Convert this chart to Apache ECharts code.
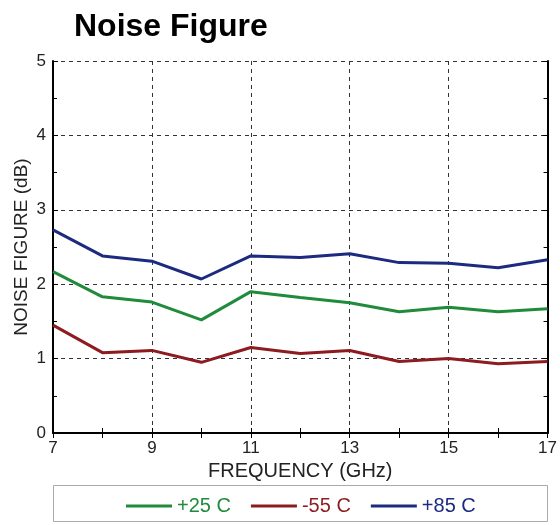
<!DOCTYPE html>
<html>
<head>
<meta charset="utf-8">
<script src="https://cdn.jsdelivr.net/npm/echarts@6/dist/echarts.min.js"></script>
<style>
html,body{margin:0;padding:0;background:#fff;}
#c{width:560px;height:525px;}
</style>
</head>
<body>
<div id="c"></div>
<script>
var frequencies = ['7','8','9','10','11','12','13','14','15','16','17'];
var nf25 = [2.17, 1.83, 1.76, 1.52, 1.90, 1.82, 1.75, 1.63, 1.69, 1.63, 1.67];
var nfMinus55 = [1.45, 1.08, 1.11, 0.95, 1.15, 1.07, 1.11, 0.96, 1.00, 0.93, 0.96];
var nf85 = [2.73, 2.38, 2.31, 2.07, 2.38, 2.36, 2.41, 2.29, 2.28, 2.22, 2.33];
var seriesNames = ['+25 C', '-55 C', '+85 C'];
var colors = ['#1f8b3b', '#8c1c1f', '#1c2a80'];

var chart = echarts.init(document.getElementById('c'), null, {renderer: 'canvas'});
var font = 'Liberation Sans, Arial, sans-serif';
var option = {
  animation: false,
  backgroundColor: '#fff',
  title: {
    text: 'Noise Figure', left: 69, top: 6,
    textStyle: {fontFamily: font, fontSize: 32, fontWeight: 'bold', color: '#000'}
  },
  grid: {left: 53, top: 61, right: 10, bottom: 92, containLabel: false},
  legend: {
    data: [
      {name: seriesNames[0], textStyle: {color: colors[0]}},
      {name: seriesNames[1], textStyle: {color: colors[1]}},
      {name: seriesNames[2], textStyle: {color: colors[2]}}
    ],
    left: 121, top: 491, itemWidth: 46, itemHeight: 3, itemGap: 20,
    textStyle: {fontFamily: font, fontSize: 20},
    icon: 'rect'
  },
  graphic: [{
    type: 'rect', x: 53.5, y: 485.5, shape: {x: 0, y: 0, width: 494, height: 36},
    style: {fill: 'none', stroke: '#aaa', lineWidth: 1}, z: -1
  }],
  xAxis: [{
    type: 'category', data: frequencies, boundaryGap: false,
    name: 'FREQUENCY (GHz)', nameLocation: 'middle', nameGap: 26,
    nameTextStyle: {fontFamily: font, fontSize: 20, color: '#222'},
    axisLine: {lineStyle: {color: '#000', width: 2}},
    axisTick: {inside: true, length: 5, interval: 0, lineStyle: {color: '#000'}},
    axisLabel: {interval: 1, fontFamily: font, fontSize: 17, color: '#222', margin: 7},
    splitLine: {show: true, interval: 1, lineStyle: {color: '#333', type: [4, 4], width: 1}}
  }, {
    type: 'category', data: frequencies, boundaryGap: false, position: 'top',
    axisLine: {lineStyle: {color: '#000', width: 2}},
    axisTick: {inside: true, length: 5, interval: 0, lineStyle: {color: '#000'}},
    axisLabel: {show: false}, splitLine: {show: false}
  }],
  yAxis: [{
    type: 'value', min: 0, max: 5, interval: 1,
    name: 'NOISE FIGURE (dB)', nameLocation: 'middle', nameGap: 22, nameMoveOverlap: false,
    nameTextStyle: {fontFamily: font, fontSize: 19, color: '#222'},
    axisLine: {show: true, lineStyle: {color: '#000', width: 2}},
    axisTick: {show: true, inside: true, length: 5, lineStyle: {color: '#000'}},
    minorTick: {show: true, splitNumber: 2, length: 4, lineStyle: {color: '#000'}},
    axisLabel: {fontFamily: font, fontSize: 17, color: '#222', margin: 7},
    splitLine: {show: true, lineStyle: {color: '#333', type: [4, 4], width: 1}}
  }, {
    type: 'value', min: 0, max: 5, interval: 1, position: 'right',
    axisLine: {show: true, lineStyle: {color: '#000', width: 2}},
    axisTick: {show: true, inside: true, length: 5, lineStyle: {color: '#000'}},
    minorTick: {show: true, splitNumber: 2, length: 4, lineStyle: {color: '#000'}},
    axisLabel: {show: false}, splitLine: {show: false}
  }],
  series: [
    {name: seriesNames[0], type: 'line', data: nf25, symbol: 'none', color: colors[0], lineStyle: {width: 3}},
    {name: seriesNames[1], type: 'line', data: nfMinus55, symbol: 'none', color: colors[1], lineStyle: {width: 3}},
    {name: seriesNames[2], type: 'line', data: nf85, symbol: 'none', color: colors[2], lineStyle: {width: 3}}
  ]
};
chart.setOption(option);
</script>
</body>
</html>
